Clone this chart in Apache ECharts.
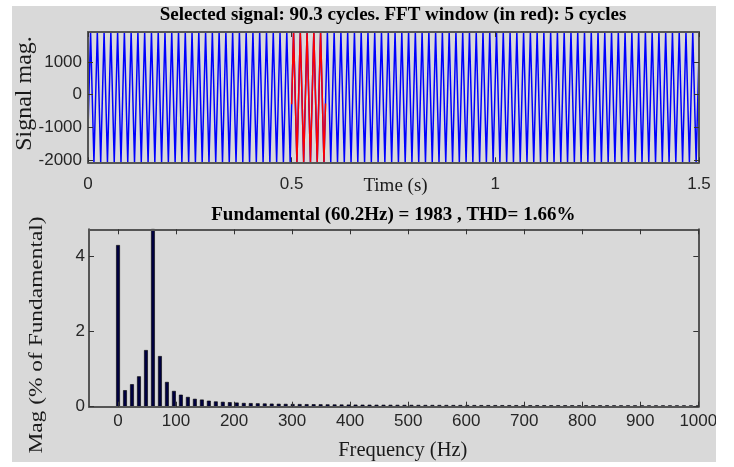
<!DOCTYPE html>
<html><head><meta charset="utf-8">
<script src="https://cdn.jsdelivr.net/npm/echarts@6/dist/echarts.min.js"></script>
<style>
html,body{margin:0;padding:0;background:#fff;width:734px;height:467px;overflow:hidden}
#chart{position:absolute;left:12px;top:6px;width:704px;height:456px;background:#d9d9d9}
</style></head><body><div id="chart"></div>
<script>
// ---- top panel: selected signal (times in ms, values in signal units) ----
const signalTimesMs = [0,
6.3,14.6,22.9,31.2,39.5,47.8,56.1,64.4,72.7,81.0,
89.3,97.6,105.9,114.2,122.5,130.8,139.1,147.5,155.8,164.1,
172.4,180.7,189.0,197.3,205.6,213.9,222.2,230.5,238.8,247.1,
255.4,263.7,272.0,280.3,288.7,297.0,305.3,313.6,321.9,330.2,
338.5,346.8,355.1,363.4,371.7,380.0,388.3,396.6,404.9,413.2,
421.5,429.8,438.2,446.5,454.8,463.1,471.4,479.7,488.0,496.3,
504.6,512.9,521.2,529.5,537.8,546.1,554.4,562.7,571.0,579.3,
587.7,596.0,604.3,612.6,620.9,629.2,637.5,645.8,654.1,662.4,
670.7,679.0,687.3,695.6,703.9,712.2,720.5,728.8,737.2,745.5,
753.8,762.1,770.4,778.7,787.0,795.3,803.6,811.9,820.2,828.5,
836.8,845.1,853.4,861.7,870.0,878.3,886.7,895.0,903.3,911.6,
919.9,928.2,936.5,944.8,953.1,961.4,969.7,978.0,986.3,994.6,
1002.9,1011.2,1019.5,1027.8,1036.2,1044.5,1052.8,1061.1,1069.4,1077.7,
1086.0,1094.3,1102.6,1110.9,1119.2,1127.5,1135.8,1144.1,1152.4,1160.7,
1169.0,1177.3,1185.7,1194.0,1202.3,1210.6,1218.9,1227.2,1235.5,1243.8,
1252.1,1260.4,1268.7,1277.0,1285.3,1293.6,1301.9,1310.2,1318.5,1326.9,
1335.2,1343.5,1351.8,1360.1,1368.4,1376.7,1385.0,1393.3,1401.6,1409.9,
1418.2,1426.5,1434.8,1443.1,1451.4,1459.7,1468.0,1476.4,1484.7,1493.0,
1500];
const signalValues = [-1084,
1915,-2068,1915,-2068,1915,-2068,1915,-2068,1915,-2068,
1915,-2068,1915,-2068,1915,-2068,1915,-2068,1915,-2068,
1915,-2068,1915,-2068,1915,-2068,1915,-2068,1915,-2068,
1915,-2068,1915,-2068,1915,-2068,1915,-2068,1915,-2068,
1915,-2068,1915,-2068,1915,-2068,1915,-2068,1915,-2068,
1915,-2068,1915,-2068,1915,-2068,1915,-2068,1915,-2068,
1915,-2068,1915,-2068,1915,-2068,1915,-2068,1915,-2068,
1915,-2068,1915,-2068,1915,-2068,1915,-2068,1915,-2068,
1915,-2068,1915,-2068,1915,-2068,1915,-2068,1915,-2068,
1915,-2068,1915,-2068,1915,-2068,1915,-2068,1915,-2068,
1915,-2068,1915,-2068,1915,-2068,1915,-2068,1915,-2068,
1915,-2068,1915,-2068,1915,-2068,1915,-2068,1915,-2068,
1915,-2068,1915,-2068,1915,-2068,1915,-2068,1915,-2068,
1915,-2068,1915,-2068,1915,-2068,1915,-2068,1915,-2068,
1915,-2068,1915,-2068,1915,-2068,1915,-2068,1915,-2068,
1915,-2068,1915,-2068,1915,-2068,1915,-2068,1915,-2068,
1915,-2068,1915,-2068,1915,-2068,1915,-2068,1915,-2068,
1915,-2068,1915,-2068,1915,-2068,1915,-2068,1915,-2068,
1290];
// FFT window (red), 5 cycles
const windowTimesMs = [500,504.6,512.9,521.2,529.5,537.8,546.1,554.4,562.7,571.0,579.3,583.1];
const windowValues  = [-292,1915,-2068,1915,-2068,1915,-2068,1915,-2068,1915,-2068,-268];

const timeTicks   = [0, 0.5, 1, 1.5];
const signalTicks = [-2000, -1000, 0, 1000];

// ---- bottom panel: spectrum (% of fundamental) ----
const freqsHz = [0,12.04,24.08,36.12,48.16,60.2,72.24,84.28,96.32,108.36,120.4,132.44,144.48,156.52,168.56,180.6,192.64,204.68,216.72,228.76,240.8,252.84,264.88,276.92,288.96,301,313.04,325.08,337.12,349.16,361.2,373.24,385.28,397.32,409.36,421.4,433.44,445.48,457.52,469.56,481.6,493.64,505.68,517.72,529.76,541.8,553.84,565.88,577.92,589.96,602,614.04,626.08,638.12,650.16,662.2,674.24,686.28,698.32,710.36,722.4,734.44,746.48,758.52,770.56,782.6,794.64,806.68,818.72,830.76,842.8,854.84,866.88,878.92,890.96,903,915.04,927.08,939.12,951.16,963.2,975.24,987.28,999.32];
const magPct = [4.31,0.44,0.60,0.81,1.51,100,1.35,0.66,0.42,0.32,
0.26,0.21,0.19,0.16,0.14,0.13,0.12,0.11,0.10,0.095,
0.09,0.086,0.082,0.078,0.075,0.072,
0.07,0.068,0.066,0.064,0.062,0.06,0.058,0.056,0.055,0.054,
0.053,0.052,0.051,0.05,0.049,0.048,0.048,0.047,0.046,0.046,
0.045,0.045,0.044,0.044,0.043,0.043,0.042,0.042,0.042,0.041,
0.041,0.041,0.04,0.04,0.04,0.04,0.039,0.039,0.039,0.039,
0.038,0.038,0.038,0.038,0.038,0.037,0.037,0.037,0.037,0.037,
0.036,0.036,0.036,0.036,0.036,0.036,0.035,0.035];
const freqTicks = [0,100,200,300,400,500,600,700,800,900,1000];
const magTicks  = [0,2,4];

const titleTop = 'Selected signal: 90.3 cycles. FFT window (in red): 5 cycles';
const titleBottom = 'Fundamental (60.2Hz) = 1983 , THD= 1.66%';

const tickFamily = '"Liberation Sans", Arial, sans-serif';
const tickSize = 17;
const serif = '"Liberation Serif", "Times New Roman", serif';
const frameColor = '#555555';
const tickColor = '#262626';

const signalData = signalTimesMs.map((t, i) => [t / 1000, signalValues[i]]);
const windowData = windowTimesMs.map((t, i) => [t / 1000, windowValues[i]]);
const barData = freqsHz.map((f, i) => [f, magPct[i]]);

function frameAxis(extra) {
  return Object.assign({
    type: 'value', z: 3,
    axisLine: { show: true, onZero: false, lineStyle: { color: frameColor, width: 2 } },
    splitLine: { show: false },
    axisLabel: { show: false }
  }, extra);
}
const tk = (vals) => ({ show: true, inside: true, length: 5, customValues: vals, lineStyle: { color: '#333', width: 1 } });
const lbl = (extra) => Object.assign({ show: true, color: tickColor, fontFamily: tickFamily, fontSize: tickSize,
  formatter: (v) => String(v) }, extra);

const chart = echarts.init(document.getElementById('chart'), null, { renderer: 'canvas' });
chart.setOption({
  animation: false,
  backgroundColor: 'transparent',
  grid: [
    { left: 76, top: 26, width: 611, height: 130.3, containLabel: false, outerBoundsMode: 'none' },
    { left: 77, top: 223.3, width: 609.3, height: 177.4, containLabel: false, outerBoundsMode: 'none' }
  ],
  xAxis: [
    frameAxis({ gridIndex: 0, position: 'bottom', min: 0, max: 1.5, axisTick: tk(timeTicks),
      axisLabel: lbl({ margin: 14, customValues: timeTicks }) }),
    frameAxis({ gridIndex: 0, position: 'top', min: 0, max: 1.5, axisTick: tk(timeTicks) }),
    frameAxis({ gridIndex: 1, position: 'bottom', min: -50, max: 1000, axisTick: tk(freqTicks),
      axisLabel: lbl({ margin: 6.5, customValues: freqTicks }) }),
    frameAxis({ gridIndex: 1, position: 'top', min: -50, max: 1000, axisTick: tk(freqTicks) })
  ],
  yAxis: [
    frameAxis({ gridIndex: 0, position: 'left', min: -2068, max: 1915, axisTick: tk(signalTicks),
      axisLabel: lbl({ margin: 6, customValues: signalTicks }) }),
    frameAxis({ gridIndex: 0, position: 'right', min: -2068, max: 1915, axisTick: tk(signalTicks) }),
    frameAxis({ gridIndex: 1, position: 'left', min: 0, max: 4.73, axisTick: tk(magTicks),
      axisLabel: lbl({ margin: 4, customValues: magTicks }) }),
    frameAxis({ gridIndex: 1, position: 'right', min: 0, max: 4.73, axisTick: tk(magTicks) })
  ],
  series: [
    { type: 'line', xAxisIndex: 0, yAxisIndex: 0, data: signalData, showSymbol: false, clip: true,
      lineStyle: { color: '#0000ff', width: 1.5 }, z: 2 },
    { type: 'line', xAxisIndex: 0, yAxisIndex: 0, data: windowData, showSymbol: false, clip: true,
      lineStyle: { color: '#ff0000', width: 1.5 }, z: 2.5 },
    { type: 'bar', xAxisIndex: 2, yAxisIndex: 2, data: barData, barWidth: 3.8, clip: true,
      itemStyle: { color: '#00003f', borderColor: '#000000', borderWidth: 0.6 } }
  ],
  graphic: [
    { type: 'text', x: 381, y: 9.5, style: { text: titleTop, font: 'bold 19px ' + serif, fill: '#000', align: 'center', verticalAlign: 'middle' } },
    { type: 'text', x: 381.3, y: 209, style: { text: titleBottom, font: 'bold 19px ' + serif, fill: '#000', align: 'center', verticalAlign: 'middle' } },
    { type: 'text', x: 383.5, y: 180, style: { text: 'Time (s)', font: '19px ' + serif, fill: '#1a1a1a', align: 'center', verticalAlign: 'middle' } },
    { type: 'text', x: 390.8, y: 445, style: { text: 'Frequency (Hz)', font: '20.5px ' + serif, fill: '#1a1a1a', align: 'center', verticalAlign: 'middle' } },
    { type: 'text', x: 12.5, y: 87.5, rotation: Math.PI / 2, style: { text: 'Signal mag.', font: '24px ' + serif, fill: '#1a1a1a', align: 'center', verticalAlign: 'middle' } },
    { type: 'text', x: 25, y: 329, rotation: Math.PI / 2, scaleX: 1.2, style: { text: 'Mag (% of Fundamental)', font: '19.5px ' + serif, fill: '#1a1a1a', align: 'center', verticalAlign: 'middle' } }
  ]
});
</script></body></html>
